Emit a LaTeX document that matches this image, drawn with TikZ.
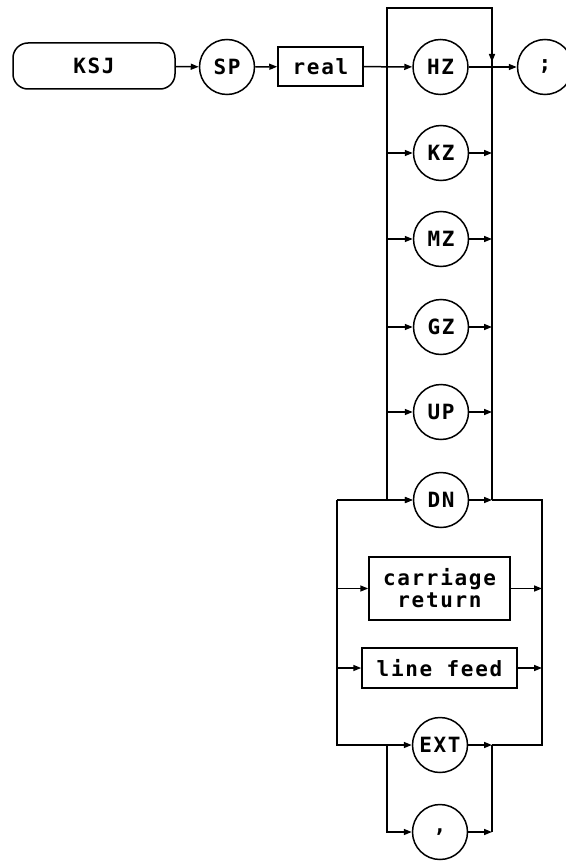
\documentclass[tikz,border=0pt]{standalone}
\usepackage{fontspec}
\newfontfamily\hpfont[LetterSpace=8]{DejaVu Sans Mono}
\usetikzlibrary{arrows.meta}
\begin{document}
\begin{tikzpicture}[x=1pt,y=-1pt,line width=1.5pt,
  lbl/.style={font=\hpfont\bfseries\fontsize{21}{22}\selectfont,inner sep=0pt},
  circ/.style={lbl,draw,circle,minimum size=55pt},
  rbox/.style={lbl,draw,rectangle},
  stad/.style={lbl,draw,rectangle,rounded corners=15pt,minimum width=162pt,minimum height=46pt},
  arr/.style={-{Triangle[length=8pt,width=6pt]}}]
\useasboundingbox (0,0) rectangle (565,861);
\node[stad] (ksj) at (94,66) {KSJ};
\node[circ] (sp) at (227,67) {SP};
\node[rbox,minimum width=85pt,minimum height=39pt] (real) at (320.5,66.5) {real};
\node[circ] (hz) at (440.5,67) {HZ};
\node[circ] (semi) at (545,67) {;};
\node[circ] (kz) at (441,153) {KZ};
\node[circ] (mz) at (441,239) {MZ};
\node[circ] (gz) at (441,327) {GZ};
\node[circ] (up) at (441,412) {UP};
\node[circ] (dn) at (441,500) {DN};
\node[rbox,minimum width=141pt,minimum height=63pt,align=center] (cr) at (439.5,588.5) {carriage\\return};
\node[rbox,minimum width=155pt,minimum height=40pt] (lf) at (439.5,668) {line feed};
\node[circ] (ext) at (440,745) {EXT};
\node[circ] (comma) at (440,832) {,};
\coordinate (lt) at (387,8);
\coordinate (rt) at (492,8);
\coordinate (ol) at (337,500);
\coordinate (or) at (542,500);
% top row
\draw[arr] (ksj) -- (sp);
\draw[arr] (sp) -- (real);
\draw[arr] (real) -- (hz);
\draw[arr] (hz) -- (semi);
% unit buses
\draw (lt |- dn) -- (lt) -- (rt) -- (rt |- dn);
\draw[arr] (rt) -- (492,62);
\foreach \n in {kz,mz,gz,up,dn}{
  \draw[arr] (lt |- \n) -- (\n);
  \draw[arr] (\n) -- (rt |- \n);
}
% terminator section
\draw[arr] (ol) -- (dn);
\draw (rt |- dn) -- (or) -- (or |- ext) -- (rt |- ext);
\draw[arr] (ol) -- (ol |- ext) -- (ext);
\draw[arr] (ext) -- (rt |- ext);
\draw[arr] (ol |- cr) -- (cr);
\draw[arr] (cr) -- (or |- cr);
\draw[arr] (ol |- lf) -- (lf);
\draw[arr] (lf) -- (or |- lf);
\draw[arr] (lt |- ext) -- (lt |- comma) -- (comma);
\draw[arr] (comma) -- (rt |- comma);
\draw (rt |- comma) -- (rt |- ext);
\end{tikzpicture}
\end{document}
